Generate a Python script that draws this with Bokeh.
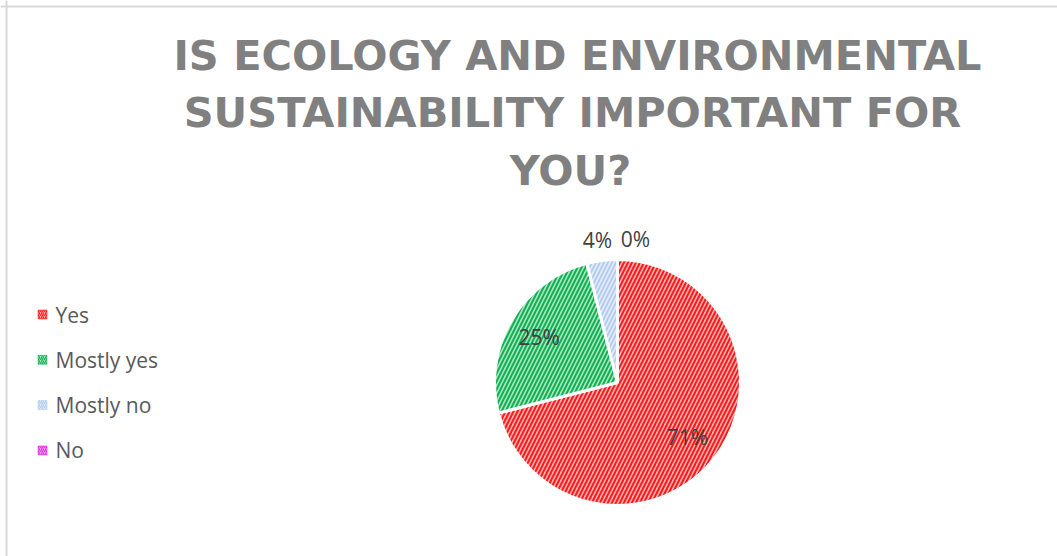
import numpy as np
from bokeh.plotting import figure
from bokeh.models import ColumnDataSource, Span, CDSView, BooleanFilter
from bokeh.core.properties import value
from bokeh.embed import file_html
from bokeh.resources import INLINE

# ---- data ----
categories = ["Yes", "Mostly yes", "Mostly no", "No"]
percents = [71, 25, 4, 0]
pct_labels = ["71%", "25%", "4%", "0%"]
title_lines = ["IS ECOLOGY AND ENVIRONMENTAL", "SUSTAINABILITY IMPORTANT FOR", "YOU?"]

# ---- styles ----
fill_colors = ["#ffb3b3", "#a8e6bf", "#e6eef9", "#f2a6f2"]
hatch_colors = ["#ff1a1a", "#14b055", "#b3cbee", "#e030e0"]
label_radius = [0.72, 0.72, 1.17, 1.17]
label_dx = [0, -2, -2, 18]

W, H = 1057, 556
p = figure(width=W, height=H, x_range=(0, W), y_range=(0, H),
           output_backend="svg", toolbar_location=None, min_border=0)
p.axis.visible = False
p.grid.visible = False
p.outline_line_color = None
p.background_fill_color = "white"
p.border_fill_color = "white"

# frame lines (top and left only visible)
p.add_layout(Span(location=6, dimension="height", line_color="#d9d9d9", line_width=2))
p.add_layout(Span(location=H - 6, dimension="width", line_color="#d9d9d9", line_width=2))

# title
ty = [H - 70 + 15, H - 127 + 15, H - 185 + 15]
p.text(x=[577, 572, 570], y=ty, text=title_lines, text_align="center",
       text_baseline="alphabetic", text_font=value("DejaVu Sans"),
       text_font_style="bold", text_font_size="41.5px", text_color="#808080")

# pie
cx, cy, r = 617, H - 382, 123
vals = np.array(percents, dtype=float)
frac = vals / vals.sum()
cum = np.concatenate([[0], np.cumsum(frac)])
start = np.pi / 2 - 2 * np.pi * cum[:-1]
end = np.pi / 2 - 2 * np.pi * cum[1:]
mid = (start + end) / 2

src = ColumnDataSource(dict(cat=categories, start=start, end=end,
                            fill=fill_colors, hatch=hatch_colors))
view = CDSView(filter=BooleanFilter([v > 0 for v in percents]))
p.wedge(x=cx, y=cy, radius=r, start_angle="start", end_angle="end",
        direction="clock", fill_color="fill", hatch_color="hatch",
        hatch_pattern="/", hatch_scale=8, hatch_weight=2,
        line_color="white", line_width=3, source=src, view=view)

lx = cx + np.array(label_radius) * r * np.cos(mid) + np.array(label_dx)
ly = cy + np.array(label_radius) * r * np.sin(mid)
p.text(x=lx, y=ly, text=pct_labels, text_align="center", text_baseline="middle",
       text_font=value("Open Sans"), text_font_size="21px", text_color="#404040")

# legend
leg_y = H - (314 + 45.3 * np.arange(len(categories)))
p.scatter(x=[42] * 4, y=leg_y, marker="square", size=9, fill_color=fill_colors,
          hatch_color=hatch_colors, hatch_pattern="/", hatch_scale=4, hatch_weight=1.2,
          line_color=hatch_colors, line_width=0.5)
p.text(x=[55] * 4, y=leg_y, text=categories, text_align="left", text_baseline="middle",
       text_font=value("Open Sans"), text_font_size="21px", text_color="#595959")

open("out.html", "w").write(file_html(p, INLINE))
